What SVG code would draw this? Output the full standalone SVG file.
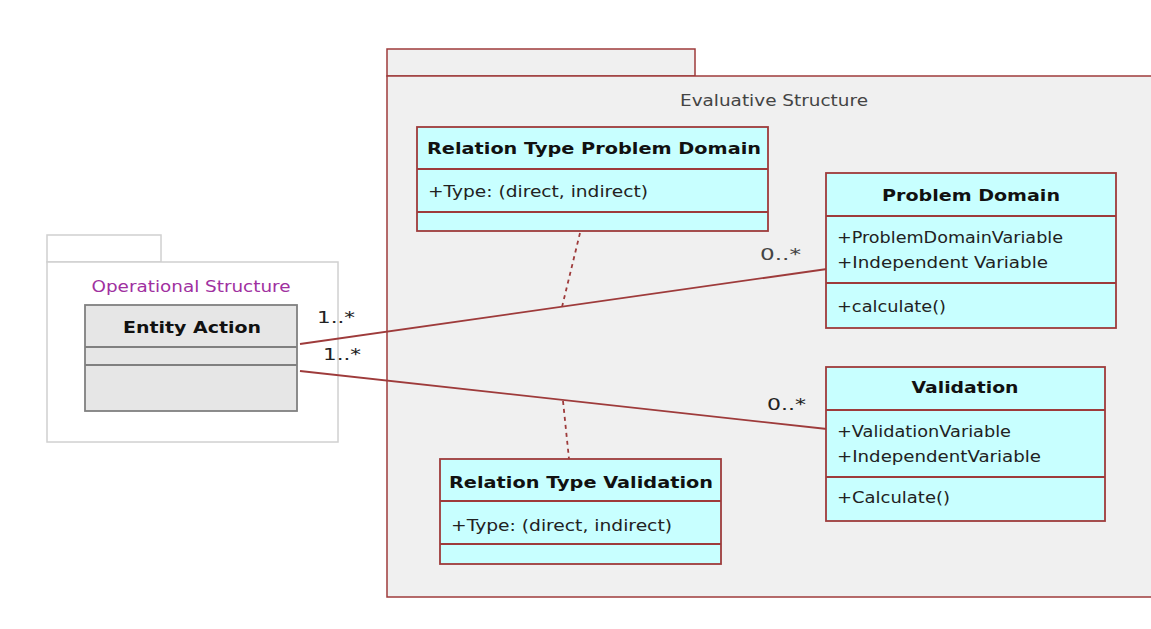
<svg xmlns="http://www.w3.org/2000/svg" width="1151" height="629" viewBox="0 0 1151 629">
<style>
.pkg{fill:#f0f0f0;stroke:#9e3b3b;stroke-width:1.5}
.pkg2{fill:#ffffff;stroke:#d0d0d0;stroke-width:1.5}
.cls{fill:#c8ffff;stroke:#9e3b3b;stroke-width:1.8}
.ent{fill:#e6e6e6;stroke:#808080;stroke-width:1.8}
.sep{stroke:#9e3b3b;stroke-width:1.8}
.sep2{stroke:#808080;stroke-width:1.8}
.conn{fill:none;stroke:#9e3b3b;stroke-width:1.8}
.dot{fill:none;stroke:#9e3b3b;stroke-width:1.8;stroke-dasharray:4,4}
text{font-family:"DejaVu Sans","Liberation Sans",sans-serif;font-size:15px;fill:#222}
.b{font-weight:bold;fill:#111}
.lbl{fill:#444}
</style>
<rect x="0" y="0" width="1151" height="629" fill="#ffffff"/>
<g id="evaluative-structure">
<rect class="pkg" x="387" y="49" width="308" height="27"/>
<rect class="pkg" x="387" y="76" width="770" height="521"/>
<text x="774" y="106" text-anchor="middle" textLength="188" lengthAdjust="spacingAndGlyphs" class="lbl">Evaluative Structure</text>
</g>
<g id="operational-structure">
<rect class="pkg2" x="47" y="235" width="114" height="27"/>
<rect class="pkg2" x="47" y="262" width="291" height="180"/>
<text x="191" y="292" text-anchor="middle" textLength="199" lengthAdjust="spacingAndGlyphs" style="fill:#a030a0">Operational Structure</text>
</g>
<g id="connectors">
<line class="conn" x1="300" y1="344" x2="827" y2="269"/>
<line class="conn" x1="300" y1="371" x2="827" y2="429"/>
<line class="dot" x1="580" y1="233" x2="562" y2="307"/>
<line class="dot" x1="563" y1="401" x2="569" y2="459"/>
<text x="317" y="323" textLength="38" lengthAdjust="spacingAndGlyphs">1..*</text>
<text x="323" y="360" textLength="38" lengthAdjust="spacingAndGlyphs">1..*</text>
<text x="760" y="260" textLength="41" lengthAdjust="spacingAndGlyphs" class="lbl">0..*</text>
<text x="767" y="410" textLength="39" lengthAdjust="spacingAndGlyphs">0..*</text>
</g>
<g id="entity-action">
<rect class="ent" x="85" y="305" width="212" height="106"/>
<line class="sep2" x1="85" y1="347" x2="297" y2="347"/>
<line class="sep2" x1="85" y1="365" x2="297" y2="365"/>
<text x="192" y="333" text-anchor="middle" class="b" textLength="138" lengthAdjust="spacingAndGlyphs">Entity Action</text>
</g>
<g id="relation-type-problem-domain">
<rect class="cls" x="417" y="127" width="351" height="104"/>
<line class="sep" x1="417" y1="169" x2="768" y2="169"/>
<line class="sep" x1="417" y1="212" x2="768" y2="212"/>
<text x="427" y="154" class="b" textLength="334" lengthAdjust="spacingAndGlyphs">Relation Type Problem Domain</text>
<text x="428" y="197" textLength="220" lengthAdjust="spacingAndGlyphs">+Type: (direct, indirect)</text>
</g>
<g id="problem-domain">
<rect class="cls" x="826" y="173" width="290" height="155"/>
<line class="sep" x1="826" y1="216" x2="1116" y2="216"/>
<line class="sep" x1="826" y1="283" x2="1116" y2="283"/>
<text x="971" y="201" text-anchor="middle" class="b" textLength="178" lengthAdjust="spacingAndGlyphs">Problem Domain</text>
<text x="837" y="243" textLength="226" lengthAdjust="spacingAndGlyphs">+ProblemDomainVariable</text>
<text x="837" y="268" textLength="211" lengthAdjust="spacingAndGlyphs">+Independent Variable</text>
<text x="837" y="312" textLength="109" lengthAdjust="spacingAndGlyphs">+calculate()</text>
</g>
<g id="validation">
<rect class="cls" x="826" y="367" width="279" height="154"/>
<line class="sep" x1="826" y1="410" x2="1105" y2="410"/>
<line class="sep" x1="826" y1="477" x2="1105" y2="477"/>
<text x="965" y="393" text-anchor="middle" class="b" textLength="107" lengthAdjust="spacingAndGlyphs">Validation</text>
<text x="837" y="437" textLength="174" lengthAdjust="spacingAndGlyphs">+ValidationVariable</text>
<text x="837" y="462" textLength="204" lengthAdjust="spacingAndGlyphs">+IndependentVariable</text>
<text x="837" y="503" textLength="113" lengthAdjust="spacingAndGlyphs">+Calculate()</text>
</g>
<g id="relation-type-validation">
<rect class="cls" x="440" y="459" width="281" height="105"/>
<line class="sep" x1="440" y1="501" x2="721" y2="501"/>
<line class="sep" x1="440" y1="544" x2="721" y2="544"/>
<text x="449" y="488" class="b" textLength="264" lengthAdjust="spacingAndGlyphs">Relation Type Validation</text>
<text x="451" y="531" textLength="221" lengthAdjust="spacingAndGlyphs">+Type: (direct, indirect)</text>
</g>
</svg>
